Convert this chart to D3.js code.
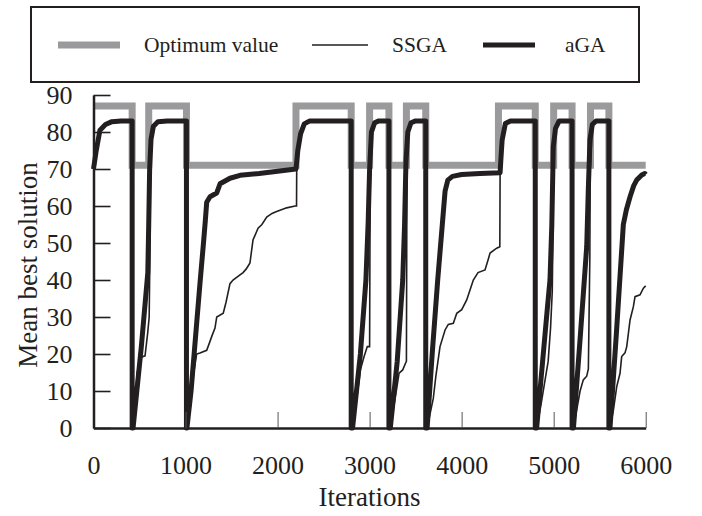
<!DOCTYPE html>
<html>
<head>
<meta charset="utf-8">
<script src="https://cdn.jsdelivr.net/npm/d3@7/dist/d3.min.js"></script>
<style>
  html, body { margin: 0; padding: 0; background: #fff; }
  svg { display: block; }
  text { font-family: "Liberation Serif", "Times New Roman", serif; fill: #231f20; }
</style>
</head>
<body>
<svg id="chart" width="702" height="516"></svg>
<script>
// ---------------- DATA ----------------
const xTicks = [0, 1000, 2000, 3000, 4000, 5000, 6000];
const yTicks = [0, 10, 20, 30, 40, 50, 60, 70, 80, 90];
const seriesNames = ["Optimum value", "SSGA", "aGA"];

// Optimum value: step changes (iteration where a new value starts)
const optIter = [0, 420, 600, 1010, 2200, 2800, 3000, 3210, 3400, 3610, 4400, 4800, 5000, 5200, 5400, 5600, 6000];
const optVal  = [87, 71, 87, 71, 87, 71, 87, 71, 87, 71, 87, 71, 87, 71, 87, 71, 71];

// aGA mean best solution [iteration, value]
const agaData = [
  [0,70],[30,75],[70,80.5],[130,82],[200,82.8],[300,83],[420,83],[420,0],
  [430,0],[520,22],[590,42],[600,55],[610,70],[625,78],[650,81.5],[700,82.8],[800,83],[1010,83],[1010,0],
  [1015,0],[1060,10],[1110,25],[1160,40],[1195,50],[1215,56],[1230,61],[1266,62.5],[1338,63.5],[1375,66],
  [1483,67.5],[1592,68.3],[1800,68.8],[2000,69.4],[2200,70],[2220,75],[2250,79.5],[2290,82.2],[2350,83],[2800,83],[2800,0],
  [2815,0],[2900,20],[2960,40],[2985,56],[3000,70],[3020,80],[3055,82.5],[3100,83],[3210,83],[3210,0],
  [3225,0],[3300,18],[3360,40],[3380,55],[3395,72],[3415,80],[3450,82.5],[3500,83],[3610,83],[3610,0],
  [3625,0],[3680,20],[3740,40],[3790,55],[3820,64],[3850,67],[3900,68],[4000,68.5],[4200,68.8],[4418,69],
  [4425,72],[4440,77.8],[4475,82.3],[4530,83],[4800,83],[4800,0],
  [4815,0],[4880,18],[4930,32],[4960,40],[4980,55],[4996,76],[5020,81],[5060,83],[5200,83],[5200,0],
  [5215,0],[5290,25],[5359,49],[5377,65],[5395,78],[5420,82],[5460,83],[5600,83],[5600,0],
  [5612,0],[5680,25],[5757,55],[5790,59],[5830,62.5],[5870,65.5],[5902,67],[5957,68.4],[5990,68.8],[6000,68.5]
];

// SSGA mean best solution [iteration, value]
const ssgaData = [
  [0,70],[30,75],[70,80.5],[130,82],[200,82.8],[300,83],[420,83],[420,0],
  [430,0],[460,10],[475,15],[505,19],[560,19.5],[590,26],[605,30],[612,45],[618,65],[625,78],[650,81.5],[700,82.8],[800,83],[1010,83],[1010,0],
  [1015,0],[1049,5],[1090,15],[1121,20],[1157,20.3],[1230,21],[1260,23],[1284,24.7],[1320,27],[1339,30],[1410,31],
  [1440,34],[1483,39],[1516,40],[1570,41],[1625,42],[1660,43],[1700,44.6],[1733,50.8],[1788,54],[1830,55],[1882,57],
  [1940,58],[1990,58.5],[2099,59.5],[2190,60],[2206,60],[2208,70],[2220,75],[2250,79.5],[2290,82.2],[2350,83],[2800,83],[2800,0],
  [2815,0],[2860,8],[2900,15.7],[2940,19.3],[2975,22],[3000,22],[3003,44],[3006,64],[3020,80],[3055,82.5],[3100,83],[3210,83],[3210,0],
  [3225,0],[3290,10],[3320,14.8],[3360,15.7],[3390,17.5],[3400,18],[3403,44],[3405,62],[3415,80],[3450,82.5],[3500,83],[3610,83],[3610,0],
  [3625,0],[3692,8],[3720,14],[3765,22],[3820,26.5],[3855,28],[3910,28.3],[3947,31],[4001,32],[4055,34.6],[4091,37.3],
  [4127,40],[4178,42],[4254,42.7],[4287,45.4],[4309,47.3],[4381,48.6],[4415,49],[4418,69],[4425,72],[4440,77.8],[4475,82.3],[4530,83],[4800,83],[4800,0],
  [4815,0],[4860,6],[4900,12],[4940,18],[4966,27],[4985,37],[4993,55],[4998,76],[5020,81],[5060,83],[5200,83],[5200,0],
  [5215,0],[5287,10],[5322,13],[5359,14],[5377,16],[5393,46],[5397,70],[5420,82],[5460,83],[5600,83],[5600,0],
  [5612,0],[5650,5],[5685,11.2],[5721,14.8],[5739,19.3],[5775,20.3],[5794,22],[5830,29.2],[5866,32.8],[5884,35.5],
  [5938,36],[5975,37.8],[6000,38.4]
];

// ---------------- CHART ----------------
const svg = d3.select("#chart");
const ink = "#231f20";
const grey = "#9a9a9c";

const x = d3.scaleLinear().domain([0, 6000]).range([93.5, 645.7]);
const y = d3.scaleLinear().domain([0, 90]).range([428, 95]);

const line = d3.line().x(d => x(d[0])).y(d => y(d[1]));
const optPts = optIter.map((it, i) => [it, optVal[i]]);
const stepLine = d3.line().x(d => x(d[0])).y(d => y(d[1])).curve(d3.curveStepAfter);

// Optimum value (grey, thick)
svg.append("path").attr("d", stepLine(optPts))
  .attr("fill", "none").attr("stroke", grey).attr("stroke-width", 7)
  .attr("stroke-linejoin", "miter");

// aGA (thick black)
svg.append("path").attr("d", line(agaData))
  .attr("fill", "none").attr("stroke", ink).attr("stroke-width", 5)
  .attr("stroke-linejoin", "round");

// SSGA (thin black)
svg.append("path").attr("d", line(ssgaData))
  .attr("fill", "none").attr("stroke", ink).attr("stroke-width", 1.6)
  .attr("stroke-linejoin", "miter");

// Axes
const fmt = d3.format("d");
const yAxis = d3.axisLeft(y).tickValues(yTicks).tickFormat(fmt).tickSizeInner(-17).tickSizeOuter(0).tickPadding(21);
const gy = svg.append("g").attr("transform", `translate(${x(0)},0)`).call(yAxis);
gy.select(".domain").attr("stroke", ink).attr("stroke-width", 2.5);
gy.selectAll(".tick line").attr("stroke", ink).attr("stroke-width", 1.6);
gy.selectAll(".tick text").attr("font-size", 26).attr("fill", ink)
  .attr("font-family", "Liberation Serif");

const xAxis = d3.axisBottom(x).tickValues(xTicks).tickFormat(fmt).tickSizeInner(-16).tickSizeOuter(0).tickPadding(27.5);
const gx = svg.append("g").attr("transform", `translate(0,${y(0)})`).call(xAxis);
gx.select(".domain").attr("stroke", ink).attr("stroke-width", 2.5);
gx.selectAll(".tick line").attr("stroke", "#555").attr("stroke-width", 1)
  .attr("display", d => d === 0 ? "none" : null);
gx.selectAll(".tick text").attr("font-size", 26).attr("fill", ink)
  .attr("font-family", "Liberation Serif");

// Axis titles
svg.append("text").attr("x", (x(0) + x(6000)) / 2).attr("y", 506)
  .attr("text-anchor", "middle").attr("font-size", 27).text("Iterations");
svg.append("text").attr("transform", "translate(37,265) rotate(-90)")
  .attr("text-anchor", "middle").attr("font-size", 27).text("Mean best solution");

// Legend
const lg = svg.append("g");
lg.append("rect").attr("x", 31).attr("y", 7).attr("width", 608).attr("height", 75)
  .attr("fill", "#fff").attr("stroke", ink).attr("stroke-width", 2);
const legendItems = [
  { name: seriesNames[0], x1: 58, x2: 120, tx: 144, color: grey, w: 7 },
  { name: seriesNames[1], x1: 312, x2: 368, tx: 392, color: ink, w: 1.5 },
  { name: seriesNames[2], x1: 483, x2: 535, tx: 565, color: ink, w: 5 }
];
legendItems.forEach(it => {
  lg.append("line").attr("x1", it.x1).attr("x2", it.x2).attr("y1", 45).attr("y2", 45)
    .attr("stroke", it.color).attr("stroke-width", it.w);
  lg.append("text").attr("x", it.tx).attr("y", 52).attr("font-size", 21.5).text(it.name);
});
</script>
</body>
</html>
